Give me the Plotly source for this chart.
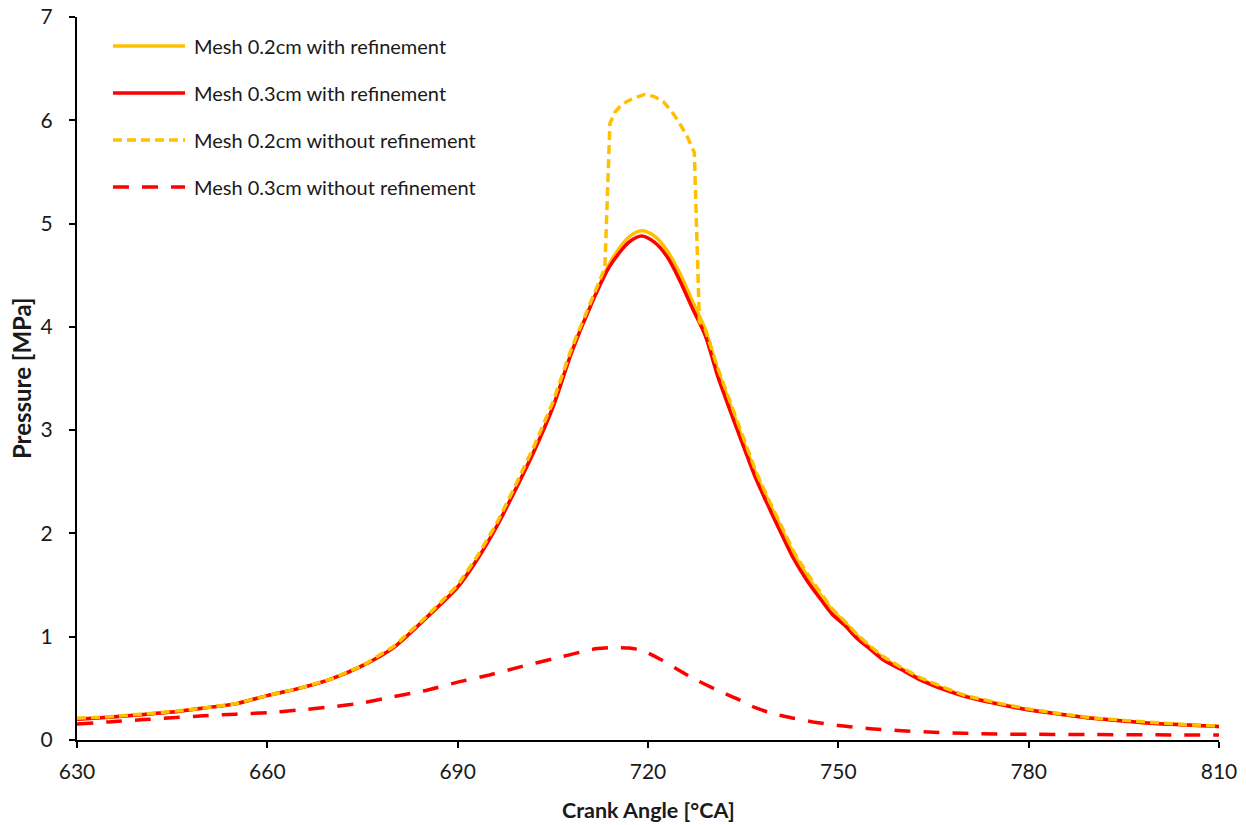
import plotly.graph_objects as go

# Crank angle grid [°CA] shared by the smooth curves
crank_angle = [630, 635, 640, 645, 650, 655, 660, 665, 670, 675, 680, 685, 690, 693, 696,
               699, 702, 705, 708, 711, 714, 717, 719, 721, 723, 725, 727, 729, 731, 733,
               735, 737, 739, 741, 743, 745, 747, 749, 751, 753, 755, 757, 760, 763, 767,
               770, 775, 780, 785, 790, 795, 800, 805, 810]

# Mesh 0.2cm with refinement [MPa]
p_02_refined = [0.20, 0.22, 0.245, 0.27, 0.31, 0.35, 0.43, 0.50, 0.59, 0.72, 0.90, 1.18, 1.48,
                1.74, 2.05, 2.41, 2.79, 3.22, 3.76, 4.21, 4.62, 4.87, 4.93, 4.88, 4.74, 4.52,
                4.25, 3.98, 3.58, 3.24, 2.90, 2.58, 2.31, 2.05, 1.80, 1.60, 1.42, 1.26, 1.14,
                1.01, 0.90, 0.80, 0.69, 0.59, 0.49, 0.43, 0.355, 0.295, 0.25, 0.21, 0.185,
                0.16, 0.145, 0.13]

# Mesh 0.3cm with refinement [MPa]
p_03_refined = [0.20, 0.22, 0.245, 0.27, 0.31, 0.35, 0.43, 0.50, 0.59, 0.72, 0.90, 1.18, 1.48,
                1.74, 2.05, 2.41, 2.79, 3.22, 3.76, 4.21, 4.59, 4.82, 4.88, 4.82, 4.68, 4.45,
                4.18, 3.92, 3.52, 3.18, 2.85, 2.53, 2.26, 2.00, 1.75, 1.55, 1.38, 1.22, 1.11,
                0.98, 0.88, 0.78, 0.68, 0.58, 0.48, 0.42, 0.35, 0.29, 0.25, 0.21, 0.185,
                0.16, 0.145, 0.13]

# Mesh 0.2cm without refinement: angle grid and pressure [MPa]
crank_angle_02_coarse = [630, 635, 640, 645, 650, 655, 660, 665, 670, 675, 680, 685, 690, 693,
                         696, 699, 702, 705, 708, 711, 713.2, 714.0, 714.8, 715.7, 716.6, 718.0,
                         719.5, 721.0, 722.4, 723.7, 725.0, 726.2, 727.3, 728.1, 729, 731, 733,
                         735, 737, 739, 741, 743, 745, 747, 749, 751, 753, 755, 757, 760, 763,
                         767, 770, 775, 780, 785, 790, 795, 800, 805, 810]
p_02_coarse = [0.21, 0.225, 0.25, 0.275, 0.31, 0.35, 0.43, 0.50, 0.59, 0.72, 0.91, 1.19, 1.50,
               1.77, 2.08, 2.45, 2.84, 3.27, 3.80, 4.24, 4.57, 5.97, 6.08, 6.14, 6.18, 6.22,
               6.25, 6.23, 6.18, 6.09, 5.97, 5.84, 5.69, 4.05, 3.98, 3.60, 3.26, 2.92, 2.60,
               2.33, 2.07, 1.82, 1.62, 1.44, 1.27, 1.15, 1.02, 0.91, 0.81, 0.70, 0.60, 0.50,
               0.43, 0.36, 0.30, 0.255, 0.215, 0.19, 0.165, 0.148, 0.135]

# Mesh 0.3cm without refinement: angle grid and pressure [MPa]
crank_angle_03_coarse = [630, 635, 640, 645, 650, 655, 660, 665, 670, 675, 680, 685, 690, 695,
                         700, 705, 710, 712, 714, 717, 719, 722, 725, 728, 731, 734, 737, 740,
                         743, 746, 750, 755, 760, 765, 770, 775, 780, 790, 800, 810]
p_03_coarse = [0.155, 0.175, 0.195, 0.215, 0.235, 0.25, 0.265, 0.29, 0.32, 0.36, 0.42, 0.48,
               0.56, 0.63, 0.71, 0.785, 0.86, 0.885, 0.895, 0.89, 0.87, 0.78, 0.67, 0.57, 0.48,
               0.40, 0.31, 0.25, 0.21, 0.175, 0.14, 0.11, 0.09, 0.075, 0.065, 0.058, 0.055,
               0.053, 0.05, 0.048]

x_ticks = [630, 660, 690, 720, 750, 780, 810]
y_ticks = [0, 1, 2, 3, 4, 5, 6, 7]

series_names = ["Mesh 0.2cm with refinement", "Mesh 0.3cm with refinement",
                "Mesh 0.2cm without refinement", "Mesh 0.3cm without refinement"]

GOLD = "#FFC000"
RED = "#FF0000"
INK = "#1a1a1a"
FONT = "Lato"

styles = [
    dict(color=GOLD, width=3.5, dash="solid"),
    dict(color=RED, width=3.5, dash="solid"),
    dict(color=GOLD, width=3.5, dash="9px,5px"),
    dict(color=RED, width=3.5, dash="16px,13px"),
]

fig = go.Figure()
# coarse meshes underneath, refined meshes on top, 0.2cm coarse last
fig.add_trace(go.Scatter(x=crank_angle_03_coarse, y=p_03_coarse, mode="lines",
                         line=dict(**styles[3], shape="spline", smoothing=0.6),
                         name=series_names[3], showlegend=False))
fig.add_trace(go.Scatter(x=crank_angle, y=p_02_refined, mode="lines",
                         line=dict(**styles[0], shape="spline", smoothing=0.8),
                         name=series_names[0], showlegend=False))
fig.add_trace(go.Scatter(x=crank_angle, y=p_03_refined, mode="lines",
                         line=dict(**styles[1], shape="spline", smoothing=0.8),
                         name=series_names[1], showlegend=False))
fig.add_trace(go.Scatter(x=crank_angle_02_coarse, y=p_02_coarse, mode="lines",
                         line=dict(**styles[2]),
                         name=series_names[2], showlegend=False))

# Legend block in the upper-left corner of the plot area
legend_y = [0.960, 0.895, 0.830, 0.765]
shapes = []
annotations = []
for name, st, ly in zip(series_names, styles, legend_y):
    shapes.append(dict(type="line", xref="paper", yref="paper", x0=0.0315, x1=0.0946,
                       y0=ly, y1=ly, line=dict(color=st["color"], width=st["width"],
                                               dash=st["dash"])))
    annotations.append(dict(xref="paper", yref="paper", x=0.1005, y=ly, xanchor="left",
                            yanchor="middle", text=name, showarrow=False,
                            font=dict(family=FONT, size=20, color=INK)))

# Axis titles
annotations.append(dict(xref="paper", yref="paper", x=0.5, y=-0.097, xanchor="center",
                        yanchor="middle", text="<b>Crank Angle [°CA]</b>", showarrow=False,
                        font=dict(family=FONT, size=21.5, color=INK)))
annotations.append(dict(xref="paper", yref="paper", x=-0.0485, y=0.5, xanchor="center",
                        yanchor="middle", text="<b>Pressure [MPa]</b>", textangle=-90,
                        showarrow=False, font=dict(family=FONT, size=24, color=INK)))

fig.update_layout(
    width=1246, height=825,
    margin=dict(l=77, r=27, t=17, b=85),
    paper_bgcolor="white", plot_bgcolor="white",
    font=dict(family=FONT, size=20, color=INK),
    shapes=shapes, annotations=annotations,
)
fig.update_xaxes(range=[630, 810], tickvals=x_ticks, automargin=False,
                 showgrid=False, zeroline=False, showline=True, linecolor="black",
                 linewidth=2, ticks="outside", ticklen=6, tickwidth=2, tickcolor="black",
                 tickfont=dict(size=21, color=INK), ticklabelstandoff=6)
fig.update_yaxes(range=[0, 7], tickvals=y_ticks, automargin=False,
                 showgrid=False, zeroline=False, showline=True, linecolor="black",
                 linewidth=2, ticks="outside", ticklen=6, tickwidth=2, tickcolor="black",
                 tickfont=dict(size=21, color=INK), ticklabelstandoff=12)

fig.write_html("out.html")
